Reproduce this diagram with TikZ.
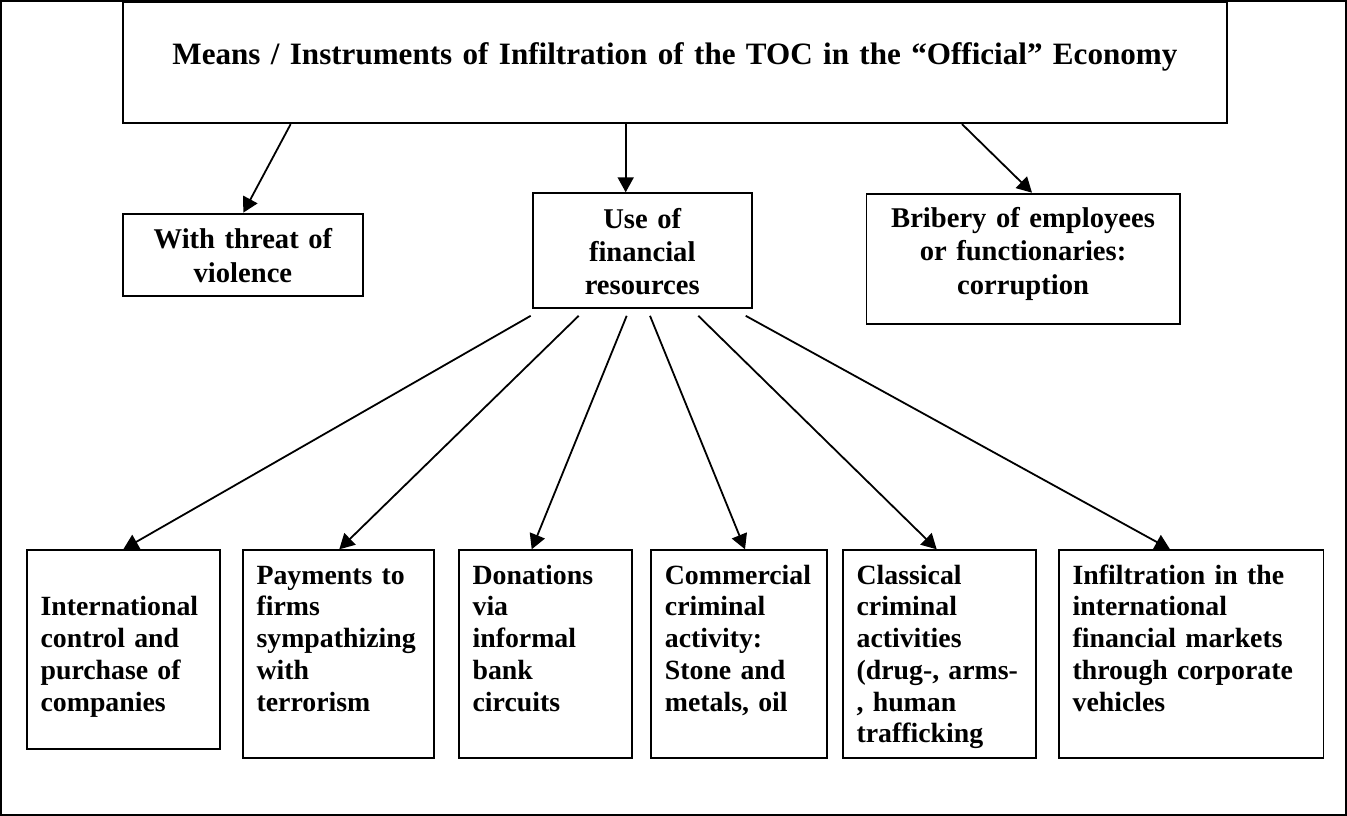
\documentclass[tikz,border=0pt]{standalone}
\usepackage{fontspec}
\setmainfont{Liberation Serif}
\usetikzlibrary{arrows.meta}
\begin{document}
\begin{tikzpicture}[x=1pt, y=1pt,
  box/.style={draw, line width=1.8pt, anchor=north west, inner xsep=0pt, inner ysep=0pt,
    align=center, font=\bfseries\fontsize{28.6}{33.3}\selectfont},
  lowbox/.style={box, inner xsep=14pt, align=left, text height=34pt, text depth=173.4pt,
    font=\bfseries\fontsize{27.8}{31.7}\selectfont},
  arr/.style={-{Triangle[length=15pt, width=16pt]}, line width=1.8pt}]

\useasboundingbox (0,0) rectangle (1347,-816);
\draw [line width=1.8pt] (1,-1) rectangle (1346,-815);

\node [box, text width=1104.6pt, text height=61.8pt, text depth=59pt,
  font=\bfseries\fontsize{31.1}{38}\selectfont] (title) at (121.7,-1.5)
  {Means / Instruments of Infiltration of the TOC in the “Official” Economy};

\node [box, text width=240.6pt, text height=35.3pt, text depth=46.7pt] (threat) at (121.7,-212.7) {With threat of\\violence};
\node [box, text width=218.7pt, text height=35pt, text depth=80pt] (use) at (532,-192.3) {Use of\\financial\\resources};
\node [box, text width=313.1pt, text height=34pt, text depth=96.6pt] (bribe) at (865.6,-192.7) {Bribery of employees\\or functionaries:\\corruption};

\node [lowbox, text width=165.6pt, text height=65.7pt, text depth=133.3pt] (control) at (25.7,-549.3) {International\\control and\\purchase of\\companies};
\node [lowbox, text width=163pt] (payments) at (241.7,-549.3) {Payments to\\firms\\sympathizing\\with\\terrorism};
\node [lowbox, text width=145pt] (donations) at (457.7,-549.3) {Donations\\via\\informal\\bank\\circuits};
\node [lowbox, text width=148pt] (commercial) at (650,-549.3) {Commercial\\criminal\\activity:\\Stone and\\metals, oil};
\node [lowbox, text width=165pt] (classical) at (841.7,-549.3) {Classical\\criminal\\activities\\(drug-, arms-\\, human\\trafficking};
\node [lowbox, text width=236.8pt] (markets) at (1057.7,-549.3) {Infiltration in the\\international\\financial markets\\through corporate\\vehicles};

\draw [arr] ([xshift=169pt]title.south west) -- ([xshift=121.6pt]threat.north west);
\draw [arr] ([xshift=504pt]title.south west) -- ([xshift=93.7pt]use.north west);
\draw [arr] ([xshift=840.3pt]title.south west) -- ([xshift=166.4pt]bribe.north west);

\draw [arr] ([xshift=-1.3pt, yshift=-6.7pt]use.south west) -- ([xshift=97.6pt]control.north west);
\draw [arr] ([xshift=46.7pt, yshift=-6.7pt]use.south west) -- ([xshift=97.6pt]payments.north west);
\draw [arr] ([xshift=94.7pt, yshift=-6.7pt]use.south west) -- ([xshift=74pt]donations.north west);
\draw [arr] ([xshift=118pt, yshift=-6.7pt]use.south west) -- ([xshift=95pt]commercial.north west);
\draw [arr] ([xshift=166.3pt, yshift=-6.7pt]use.south west) -- ([xshift=95pt]classical.north west);
\draw [arr] ([xshift=213.7pt, yshift=-6.7pt]use.south west) -- ([xshift=112.3pt]markets.north west);

\end{tikzpicture}
\end{document}
